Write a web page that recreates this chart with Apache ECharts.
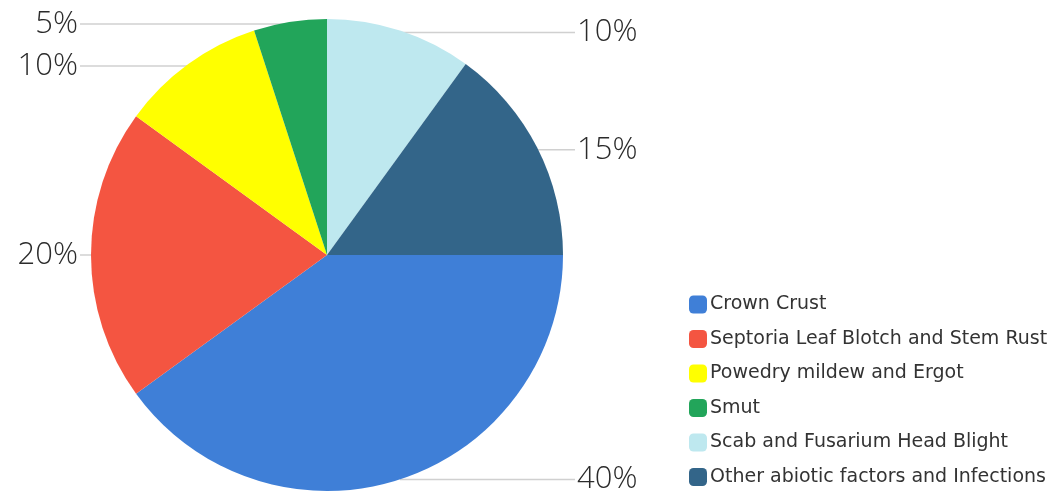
<!DOCTYPE html>
<html><head><meta charset="utf-8">
<script src="https://cdn.jsdelivr.net/npm/echarts@6/dist/echarts.min.js"></script>
<style>html,body{margin:0;padding:0;background:#fff}#c{width:1060px;height:491px}</style>
</head><body><div id="c"></div>
<script>
const categories = ['Crown Crust','Septoria Leaf Blotch and Stem Rust','Powedry mildew and Ergot','Smut','Scab and Fusarium Head Blight','Other abiotic factors and Infections'];
const values = [40, 20, 10, 5, 10, 15];
const colors = ['#3F7FD7','#F45541','#FFFF00','#22A55A','#BEE8EF','#336589'];

const CX = 327, CY = 255, R = 236;
const LEFT_END = 80, RIGHT_END = 575;
const total = values.reduce((a,b)=>a+b,0);

function edgePoint(i){
  let s = 0; for (let k=0;k<i;k++) s += values[k];
  const a = (s + values[i]/2) / total * 2 * Math.PI;
  return [CX + R*Math.cos(a), CY + R*Math.sin(a) + (Math.sin(a) < 0 ? 2 : 0)];
}

const chart = echarts.init(document.getElementById('c'), null, {renderer:'canvas'});
chart.setOption({
  animation:false,
  legend:{
    orient:'vertical', left:684, top:290, height:200, width:376,
    itemWidth:18, itemHeight:18, itemGap:15.5, align:'left',
    icon:'roundRect',
    textStyle:{fontFamily:'DejaVu Sans', fontSize:19, color:'#333', padding:[0,0,0,-2]},
    data: categories
  },
  series:[{
    type:'pie',
    center:[CX,CY], radius:R,
    startAngle:0, clockwise:true,
    data: categories.map((n,i)=>({name:n, value:values[i], itemStyle:{color:colors[i]}})),
    label:{
      show:true, formatter:'{d}%', position:'outside',
      fontFamily:'Open Sans', fontWeight:300, fontSize:31, color:'#2b2b2b'
    },
    labelLine:{show:true, length:0, length2:0, lineStyle:{color:'#d0d0d0', width:1.5}},
    labelLayout:function(p){
      const pt = edgePoint(p.dataIndex);
      const left = pt[0] < CX;
      const endX = left ? LEFT_END : RIGHT_END;
      return {
        x: left ? endX - 2 : endX + 2,
        y: pt[1],
        align: left ? 'right' : 'left',
        verticalAlign:'middle',
        labelLinePoints:[pt, pt, [endX, pt[1]]]
      };
    }
  }]
});
</script></body></html>
